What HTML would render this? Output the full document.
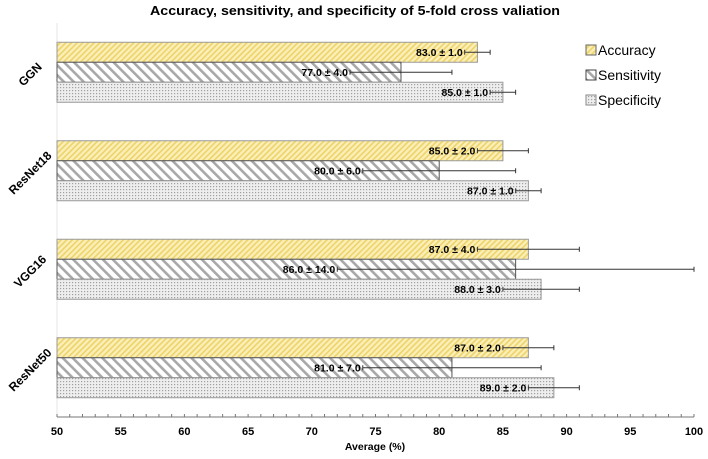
<!DOCTYPE html>
<html><head><meta charset="utf-8"><style>
body{margin:0;background:#fff}
svg{display:block;font-family:"Liberation Sans",Arial,sans-serif}
</style></head><body>
<svg id="chart" width="708" height="459" viewBox="0 0 708 459" xmlns="http://www.w3.org/2000/svg">
<defs>
<pattern id="pAcc" patternUnits="userSpaceOnUse" width="4" height="4" patternTransform="rotate(45)">
<rect width="4" height="4" fill="#fbefb8"/><rect width="1.6" height="4" fill="#edd36a"/></pattern>
<pattern id="pSens" patternUnits="userSpaceOnUse" width="7" height="7" patternTransform="rotate(-45)">
<rect width="7" height="7" fill="#fff"/><rect width="2.6" height="7" fill="#a8a8a8"/></pattern>
<pattern id="pSpec" patternUnits="userSpaceOnUse" width="3" height="3">
<rect width="3" height="3" fill="#eeeeee"/><rect width="1.2" height="1.2" fill="#a0a0a0"/></pattern>
</defs>
<text x="355" y="15" text-anchor="middle" font-size="13" font-weight="bold" textLength="410" lengthAdjust="spacingAndGlyphs">Accuracy, sensitivity, and specificity of 5-fold cross valiation</text>
<g id="plot"></g>
<text x="375" y="450" text-anchor="middle" font-size="10.5" font-weight="bold">Average (%)</text>
<g font-size="14">
<g><rect x="586" y="45" width="10" height="10" fill="url(#pAcc)" stroke="#666"/><text x="598" y="55">Accuracy</text></g>
<g><rect x="586" y="70" width="10" height="10" fill="url(#pSens)" stroke="#444"/><text x="598" y="80">Sensitivity</text></g>
<g><rect x="586" y="95" width="10" height="10" fill="url(#pSpec)" stroke="#888"/><text x="598" y="105">Specificity</text></g>
</g>
</svg>
<script>
const categories = ["GGN", "ResNet18", "VGG16", "ResNet50"];
const accuracy = [83, 85, 87, 87];
const accuracySd = [1, 2, 4, 2];
const sensitivity = [77, 80, 86, 81];
const sensitivitySd = [4, 6, 14, 7];
const specificity = [85, 87, 88, 89];
const specificitySd = [1, 1, 3, 2];
const xTicks = [50, 55, 60, 65, 70, 75, 80, 85, 90, 95, 100];

const NS = "http://www.w3.org/2000/svg";
const g = document.getElementById("plot");
const X0 = 57, X1 = 694, TOP = 23, BOTTOM = 417;
const band = (BOTTOM - TOP) / categories.length;
function xs(v){ return X0 + (v - 50) / 50 * (X1 - X0); }
function mk(tag, attrs){ const e = document.createElementNS(NS, tag); for (const k in attrs) e.setAttribute(k, attrs[k]); g.appendChild(e); return e; }

let yl = mk("line", {x1:X0, x2:X0, y1:TOP, y2:BOTTOM, stroke:"#e4e4e4"});



const series = [
  {vals: accuracy, sd: accuracySd, fill: "url(#pAcc)", stroke: "#9a9a9a", name: "accuracy"},
  {vals: sensitivity, sd: sensitivitySd, fill: "url(#pSens)", stroke: "#555", name: "sensitivity"},
  {vals: specificity, sd: specificitySd, fill: "url(#pSpec)", stroke: "#999", name: "specificity"}
];
const bh = 20;
categories.forEach((c, i) => {
  const cy = TOP + band * (i + 0.5);
  const t = mk("text", {x: 0, y: 0, "font-size": 12, "font-weight": "bold", "text-anchor": "middle", transform: `translate(33,${cy + 5}) rotate(-45)`});
  t.textContent = c;
  
  
  series.forEach((s, j) => {
    const y = cy - 1.5 * bh + j * bh;
    const v = s.vals[i], sd = s.sd[i];
    const r = mk("rect", {x: X0, y: y, width: xs(v) - X0, height: bh, fill: s.fill, stroke: s.stroke, "stroke-width": 1});
    
    
    const ym = y + bh / 2;
    const e = mk("path", {d: `M${xs(v - sd)},${ym}H${xs(v + sd)}M${xs(v - sd)},${ym - 2.5}V${ym + 2.5}M${xs(v + sd)},${ym - 2.5}V${ym + 2.5}`, stroke: "#333", fill: "none", "stroke-width": 1});
    
    
    const lb = mk("text", {x: xs(v - sd) - 2, y: ym + 3.5, "font-size": 10.5, "font-weight": "bold", "text-anchor": "end"});
    lb.textContent = v.toFixed(1) + " ± " + sd.toFixed(1);
    
    
  });
});

const ax = mk("line", {x1: X0, x2: X1, y1: BOTTOM, y2: BOTTOM, stroke: "#777"});


for (let v = 50; v <= 100; v++) {
  const tk = mk("line", {x1: xs(v), x2: xs(v), y1: BOTTOM - 3, y2: BOTTOM, stroke: "#777"});
  
  
}
xTicks.forEach(v => {
  const t = mk("text", {x: xs(v), y: 435, "font-size": 11, "font-weight": "bold", "text-anchor": "middle"});
  t.textContent = v;
  
  
});
</script>
</body></html>
